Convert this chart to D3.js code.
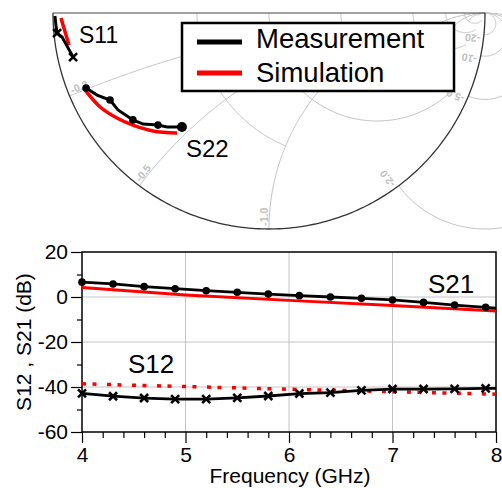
<!DOCTYPE html>
<html>
<head>
<meta charset="utf-8">
<script src="https://cdn.jsdelivr.net/npm/d3@7/dist/d3.min.js"></script>
<style>
  body { margin: 0; background: #fff; }
  svg { display: block; font-family: "Liberation Sans", Arial, sans-serif; }
</style>
</head>
<body>
<svg id="chart" width="502" height="488"></svg>
<script>
// ---- Smith chart data: reflection coefficient [re, im] ----
const s11Meas = [[-0.991, -0.014], [-0.986, -0.060], [-0.981, -0.093], [-0.958, -0.111], [-0.940, -0.144], [-0.907, -0.204]];
const s11MeasMarks = [[-0.981, -0.093], [-0.907, -0.204]];
const s11Sim = [[-0.963, -0.023], [-0.944, -0.088], [-0.926, -0.148]];
const s22Meas = [[-0.847, -0.347], [-0.796, -0.380], [-0.736, -0.403], [-0.699, -0.449], [-0.630, -0.495],
                 [-0.583, -0.514], [-0.514, -0.519], [-0.472, -0.528], [-0.403, -0.528]];
const s22MeasMarks = [[-0.847, -0.347], [-0.736, -0.403], [-0.630, -0.495], [-0.514, -0.519], [-0.403, -0.528]];
const s22Sim = [[-0.852, -0.356], [-0.782, -0.435], [-0.704, -0.486], [-0.630, -0.519], [-0.537, -0.546], [-0.426, -0.556]];

// grid: resistance circles (with reactance limit) and reactance arcs (with resistance limit)
const rCircles = [0.5, 1, 2, 5, 10, 20];
const rCircleXmax = [1, 5, 5, 10, 20, 50];
const xArcs = [0.2, 0.5, 1, 2, 5, 10, 20];
const xArcRmax = [0.5, 1, 2, 5, 10, 20, 50];
const xArcLabels = ["-0.2", "-0.5", "-1.0", "-2.0", "-5.0", "-10", "-20"];

// ---- S-parameter vs frequency data ----
const freqMeas = [4.0, 4.3, 4.6, 4.9, 5.2, 5.5, 5.8, 6.1, 6.4, 6.7, 7.0, 7.3, 7.6, 7.9, 8.0];
const s21Meas = [6.6, 5.8, 4.6, 3.7, 2.8, 2.1, 1.3, 0.6, 0.0, -0.6, -1.3, -2.4, -3.6, -4.6, -5.0];
const s12Meas = [-42.8, -44.1, -44.9, -45.4, -45.4, -44.8, -44.0, -42.9, -42.5, -41.5, -40.9, -40.9, -40.8, -40.6, -40.6];
const freqSim = [4, 5, 6, 7, 8];
const s21Sim = [4.2, 0.9, -1.5, -3.8, -6.2];
const s12Sim = [-38.6, -39.8, -41.0, -42.1, -43.2];

const yTicks = [20, 0, -20, -40, -60];
const yMinor = [10, -10, -30, -50];
const xTicks = [4, 5, 6, 7, 8];
const xMinor = [4.2, 4.4, 4.6, 4.8, 5.2, 5.4, 5.6, 5.8, 6.2, 6.4, 6.6, 6.8, 7.2, 7.4, 7.6, 7.8];

const svg = d3.select("#chart");
const RED = "#ff0000";

// ================= Smith chart =================
const gx = d3.scaleLinear().domain([-1, 1]).range([53, 485]);
const gy = d3.scaleLinear().domain([0, -1]).range([13, 229]);
const gline = d3.line().x(d => gx(d[0])).y(d => gy(d[1]));
const smith = svg.append("g");

function gamma(r, x) {
    // (z-1)/(z+1)
    const a = r - 1, b = x, c = r + 1, d = x;
    const den = c * c + d * d;
    return [(a * c + b * d) / den, (b * c - a * d) / den];
}

// r circles
rCircles.forEach((r, i) => {
    const cx = r / (1 + r), rad = 1 / (1 + r);
    const e = gamma(r, -rCircleXmax[i]);
    const phiE = Math.atan2(e[1], e[0] - cx);
    const pts = d3.range(0, 1.0001, 0.01).map(t => {
        const p = -Math.PI + t * (phiE + Math.PI);
        return [cx + rad * Math.cos(p), rad * Math.sin(p)];
    });
    smith.append("path").attr("d", gline(pts))
        .attr("fill", "none").attr("stroke", "#c4c4c4").attr("stroke-width", 1);
});

// x arcs
xArcs.forEach((xv, i) => {
    const x = -xv, cy = 1 / x, rad = 1 / xv;
    const s = gamma(0, x), e = gamma(xArcRmax[i], x);
    const a0 = Math.atan2(s[1] - cy, s[0] - 1), a1 = Math.atan2(e[1] - cy, e[0] - 1);
    const pts = d3.range(0, 1.0001, 0.01).map(t => {
        const a = a0 + t * (a1 - a0);
        return [1 + rad * Math.cos(a), cy + rad * Math.sin(a)];
    });
    smith.append("path").attr("d", gline(pts))
        .attr("fill", "none").attr("stroke", "#c4c4c4").attr("stroke-width", 1);

    const k = 0.985;
    const ang = Math.atan2(s[1], -s[0]) * 180 / Math.PI;
    smith.append("text")
        .attr("transform", "translate(" + gx(s[0] * k) + "," + gy(s[1] * k) + ") rotate(" + ang + ")")
        .attr("dy", -1)
        .attr("font-size", "10.5px").attr("font-weight", "700")
        .attr("fill", "#c0c0c0")
        .text(xArcLabels[i]);
});

// outer boundary and real axis
const rim = d3.range(0, 1.0001, 0.005).map(t => [Math.cos(Math.PI + t * Math.PI), Math.sin(Math.PI + t * Math.PI)]);
smith.append("path").attr("d", gline(rim))
    .attr("fill", "none").attr("stroke", "#333").attr("stroke-width", 1.3);
smith.append("path").attr("d", gline([[-1, 0], [1, 0]]))
    .attr("stroke", "#444").attr("stroke-width", 1);

// curves
smith.append("path").attr("d", gline(s11Sim))
    .attr("fill", "none").attr("stroke", RED).attr("stroke-width", 3.5);
smith.append("path").attr("d", gline.curve(d3.curveCatmullRom)(s22Sim))
    .attr("fill", "none").attr("stroke", RED).attr("stroke-width", 3.5);
gline.curve(d3.curveLinear);
smith.append("path").attr("d", gline(s11Meas))
    .attr("fill", "none").attr("stroke", "#000").attr("stroke-width", 3);
smith.append("path").attr("d", gline(s22Meas))
    .attr("fill", "none").attr("stroke", "#000").attr("stroke-width", 3);

const xMark = "M-4,-4L4,4M-4,4L4,-4";
smith.selectAll("path.s11m").data(s11MeasMarks).enter().append("path")
    .attr("class", "s11m")
    .attr("transform", d => "translate(" + gx(d[0]) + "," + gy(d[1]) + ")")
    .attr("d", xMark).attr("stroke", "#000").attr("stroke-width", 2.6);
smith.selectAll("circle.s22m").data(s22MeasMarks).enter().append("circle")
    .attr("cx", d => gx(d[0])).attr("cy", d => gy(d[1]))
    .attr("r", (d, i) => i === s22MeasMarks.length - 1 ? 5 : 3.8).attr("fill", "#000");

smith.append("text").attr("x", 79).attr("y", 43).attr("font-size", "23px").text("S11");
smith.append("text").attr("x", 186).attr("y", 157).attr("font-size", "24px").text("S22");

// legend
const leg = svg.append("g");
leg.append("rect").attr("x", 182).attr("y", 23).attr("width", 272).attr("height", 68)
    .attr("fill", "#fff").attr("stroke", "#000").attr("stroke-width", 2.5);
leg.append("line").attr("x1", 197).attr("x2", 242).attr("y1", 42).attr("y2", 42)
    .attr("stroke", "#000").attr("stroke-width", 5);
leg.append("line").attr("x1", 197).attr("x2", 242).attr("y1", 73).attr("y2", 73)
    .attr("stroke", RED).attr("stroke-width", 5);
leg.append("text").attr("x", 256).attr("y", 48).attr("font-size", "27.5px").text("Measurement");
leg.append("text").attr("x", 256).attr("y", 82).attr("font-size", "27.5px").text("Simulation");

// ================= S21 / S12 chart =================
const x = d3.scaleLinear().domain([4, 8]).range([82, 496]);
const y = d3.scaleLinear().domain([-60, 20]).range([432, 252]);
const g = svg.append("g");

g.selectAll("line.gx").data([5, 6, 7]).enter().append("line")
    .attr("x1", d => x(d)).attr("x2", d => x(d)).attr("y1", y(20)).attr("y2", y(-60))
    .attr("stroke", "#c4c4c4").attr("stroke-width", 1);
g.selectAll("line.gy").data([0, -20, -40]).enter().append("line")
    .attr("x1", x(4)).attr("x2", x(8)).attr("y1", d => y(d)).attr("y2", d => y(d))
    .attr("stroke", "#c4c4c4").attr("stroke-width", 1);

const yAxis = g.append("g").attr("transform", "translate(" + x(4) + ",0)")
    .call(d3.axisLeft(y).tickValues(yTicks).tickSize(11).tickPadding(3).tickFormat(d => String(d)));
const yAxisMinor = g.append("g").attr("transform", "translate(" + x(4) + ",0)")
    .call(d3.axisLeft(y).tickValues(yMinor).tickSize(5).tickFormat(""));
const xAxis = g.append("g").attr("transform", "translate(0," + y(-60) + ")")
    .call(d3.axisBottom(x).tickValues(xTicks).tickSize(11).tickPadding(4).tickFormat(d => String(d)));
const xAxisMinor = g.append("g").attr("transform", "translate(0," + y(-60) + ")")
    .call(d3.axisBottom(x).tickValues(xMinor).tickSize(6).tickFormat(""));
[yAxis, yAxisMinor, xAxis, xAxisMinor].forEach(a => {
    a.select(".domain").remove();
    a.selectAll("line").attr("stroke", "#000").attr("stroke-width", 1.2);
    a.selectAll("text").attr("font-size", "21px").attr("fill", "#000")
        .attr("font-family", "'Liberation Sans', Arial, sans-serif");
});

g.append("rect").attr("x", x(4)).attr("y", y(20)).attr("width", x(8) - x(4)).attr("height", y(-60) - y(20))
    .attr("fill", "none").attr("stroke", "#000").attr("stroke-width", 1.5);

const line21m = d3.line().x((d, i) => x(freqMeas[i])).y(d => y(d));
const line21s = d3.line().x((d, i) => x(freqSim[i])).y(d => y(d));

g.append("path").attr("d", line21s(s21Sim))
    .attr("fill", "none").attr("stroke", RED).attr("stroke-width", 3);
g.append("path").attr("d", line21s(s12Sim))
    .attr("fill", "none").attr("stroke", RED).attr("stroke-width", 3.5)
    .attr("stroke-dasharray", "4,6.5,4,10.5");
g.append("path").attr("d", line21m(s21Meas))
    .attr("fill", "none").attr("stroke", "#000").attr("stroke-width", 2.8);
g.append("path").attr("d", line21m(s12Meas))
    .attr("fill", "none").attr("stroke", "#000").attr("stroke-width", 2.8);

const markIdx = d3.range(freqMeas.length).filter(i => freqMeas[i] < 8);
g.selectAll("circle.m21").data(markIdx).enter().append("circle")
    .attr("cx", i => x(freqMeas[i])).attr("cy", i => y(s21Meas[i])).attr("r", 3.8).attr("fill", "#000");
g.selectAll("path.m12").data(markIdx).enter().append("path")
    .attr("transform", i => "translate(" + x(freqMeas[i]) + "," + y(s12Meas[i]) + ")")
    .attr("d", xMark).attr("stroke", "#000").attr("stroke-width", 2.6);

g.append("text").attr("x", 428).attr("y", 293).attr("font-size", "26px").text("S21");
g.append("text").attr("x", 128).attr("y", 373).attr("font-size", "26px").text("S12");

g.append("text").attr("x", (x(4) + x(8)) / 2 + 1).attr("y", 483)
    .attr("text-anchor", "middle").attr("font-size", "21px").text("Frequency (GHz)");
g.append("text").attr("transform", "translate(31," + (y(20) + y(-60)) / 2 + ") rotate(-90)")
    .attr("text-anchor", "middle").attr("font-size", "21px").text("S12 , S21 (dB)");
</script>
</body>
</html>
